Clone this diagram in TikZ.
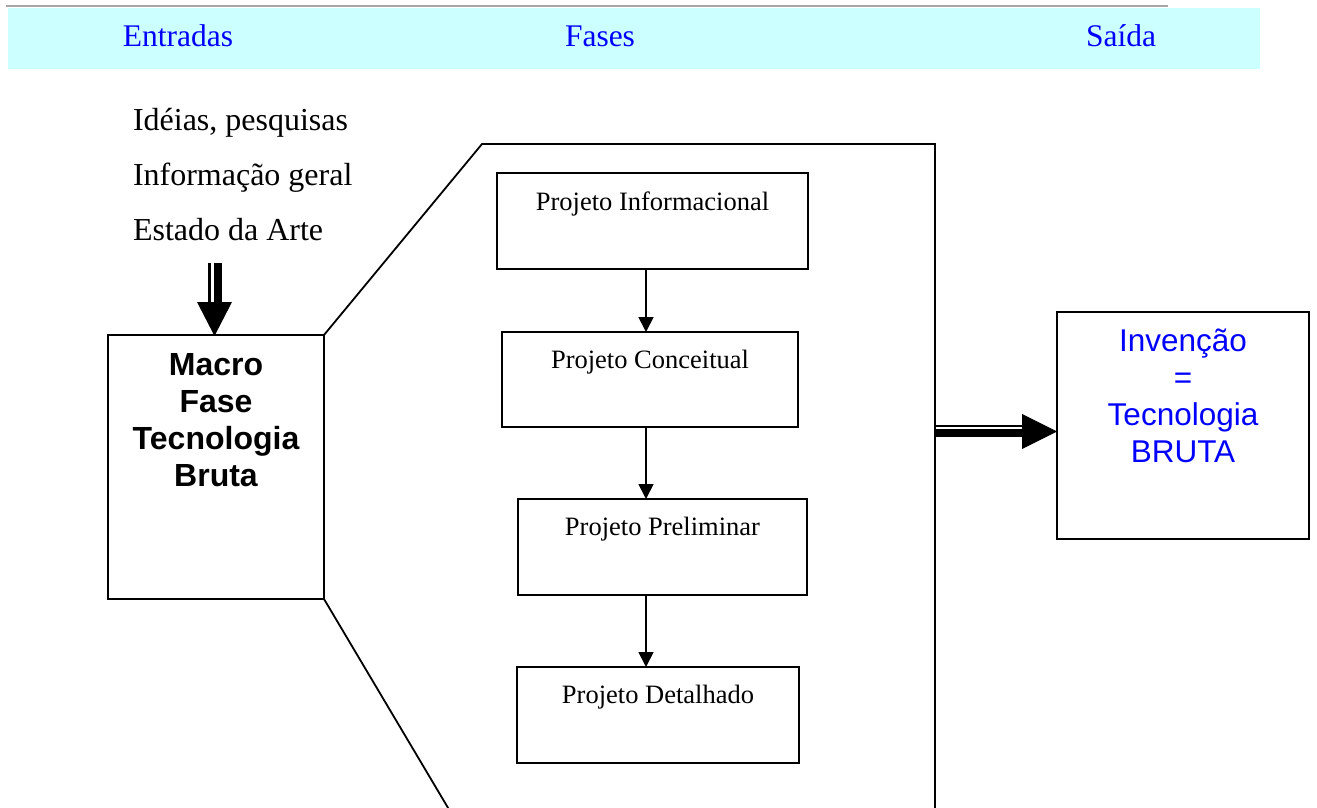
\documentclass[tikz,border=0pt]{standalone}
\usepackage{fontspec}
\setmainfont{Liberation Serif}
\newfontfamily\arialfont{Liberation Sans}
\usetikzlibrary{arrows.meta}
\definecolor{headerbg}{HTML}{CCFFFF}
\definecolor{headtext}{HTML}{0000FF}

\begin{document}
\begin{tikzpicture}[x=1pt,y=-1pt,
  every node/.style={inner sep=0pt, outer sep=0pt},
  stagebox/.style={draw=black, line width=1.8pt, fill=white},
  bigtext/.style={font=\fontsize{32}{37}\selectfont},
  stagetext/.style={font=\fontsize{26.5}{30}\selectfont, anchor=base},
  headtxt/.style={font=\fontsize{31.5}{37}\selectfont, text=headtext, anchor=base},
  sanstext/.style={font=\arialfont\fontsize{31.5}{37}\selectfont, align=center, anchor=north},
  outline/.style={draw=black, line width=1.8pt},
  flow/.style={draw=black, line width=1.8pt, -{Triangle[length=15pt,width=15pt]}}
]
\useasboundingbox (0,0) rectangle (1317,808);

% header band
\draw[gray!70, line width=1.2pt] (6,6) -- (1168,6);
\node[fill=headerbg, minimum width=1252pt, minimum height=61pt] (header) at (634,38.5) {};
\node[headtxt] (hin)  at (178,47)  {Entradas};
\node[headtxt] (hph)  at (600,47)  {Fases};
\node[headtxt] (hout) at (1121,47) {Saída};

% inputs
\node[bigtext, anchor=base west] (in1) at (133,130) {Idéias, pesquisas};
\node[bigtext, anchor=base west] (in2) at (133,185) {Informação geral};
\node[bigtext, anchor=base west] (in3) at (133,240) {Estado da Arte};

% macro phase box
\node[stagebox, minimum width=216pt, minimum height=264pt] (macro) at (216,467) {};
\node[sanstext, font=\arialfont\bfseries\fontsize{32}{37}\selectfont] (macrotxt) at (216,353)
  {Macro\\Fase\\Tecnologia\\Bruta};

% expansion outline of the macro phase
\draw[outline] (macro.north east) -- (482,144) -- (935,144) -- (935,812);
\draw[outline] (macro.south east) -- (450.5,812);

% phase boxes
\node[stagebox, minimum width=311pt, minimum height=96pt] (b1) at (652.5,221) {};
\node[stagebox, minimum width=296pt, minimum height=95pt] (b2) at (650,379.5) {};
\node[stagebox, minimum width=289pt, minimum height=96pt] (b3) at (662.5,547) {};
\node[stagebox, minimum width=282pt, minimum height=96pt] (b4) at (658,715) {};
\node[stagetext] (t1) at (652.5,210) {Projeto Informacional};
\node[stagetext] (t2) at (650,368)   {Projeto Conceitual};
\node[stagetext] (t3) at (662.5,535) {Projeto Preliminar};
\node[stagetext] (t4) at (658,703)   {Projeto Detalhado};

\coordinate (ax) at (646,0);
\draw[flow] (b1.south -| ax) -- (b2.north -| ax);
\draw[flow] (b2.south -| ax) -- (b3.north -| ax);
\draw[flow] (b3.south -| ax) -- (b4.north -| ax);

% output box
\node[stagebox, minimum width=252pt, minimum height=227pt] (out) at (1183,425.5) {};
\node[sanstext, text=headtext] (outtxt) at (1183,328.5)
  {Invenção\\=\\Tecnologia\\BRUTA};

% double-shaft arrow into the macro box
\begin{scope}[shift={(macro.north)}]
  \draw[line width=2.5pt] (-6.5,-72) -- (-6.5,-31);
  \draw[line width=8pt] (1.5,-72) -- (1.5,-31);
  \fill (-19,-33) -- (16,-33) -- (-1.5,1) -- cycle;
\end{scope}

% double-shaft arrow into the output box
\begin{scope}[shift={(out.west)}]
  \draw[line width=2.5pt] (-122,0.5) -- (-33,0.5);
  \draw[line width=8pt] (-122,7.5) -- (-33,7.5);
  \fill (-35,-11.5) -- (-35,23.5) -- (0,6) -- cycle;
\end{scope}
\end{tikzpicture}
\end{document}
